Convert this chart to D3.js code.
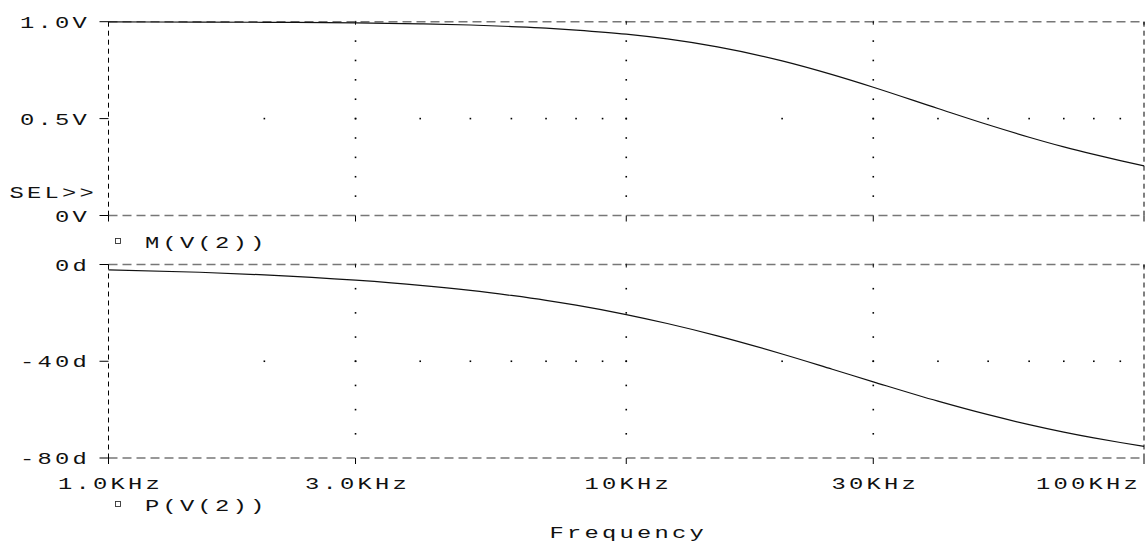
<!DOCTYPE html>
<html>
<head>
<meta charset="utf-8">
<script src="https://cdn.jsdelivr.net/npm/d3@7"></script>
<style>
  body { margin: 0; background: #fff; }
  text { font-family: "Liberation Mono", "DejaVu Sans Mono", monospace; font-size: 17px; fill: #111; }
</style>
</head>
<body>
<div id="chart"></div>
<script>
// frequency sweep (Hz) and the two traces
var freqs = [1000, 1500, 2000, 3000, 4000, 5000, 6000, 7000, 8000, 10000, 12000, 15000,
  20000, 25000, 30000, 40000, 50000, 60000, 70000, 80000, 90000, 100000];
var magnitude = [0.999, 0.998, 0.997, 0.994, 0.989, 0.983, 0.975, 0.967, 0.957, 0.936, 0.911, 0.870,
  0.798, 0.727, 0.662, 0.552, 0.468, 0.404, 0.354, 0.315, 0.283, 0.256];
var phase = [-2.2, -3.2, -4.3, -6.5, -8.6, -10.7, -12.8, -14.8, -16.8, -20.7, -24.4, -29.5,
  -37.0, -43.3, -48.5, -56.5, -62.1, -66.2, -69.3, -71.7, -73.6, -75.2];

var xTicks = [1000, 3000, 10000, 30000, 100000];
var xTickLabels = ["1.0KHz", "3.0KHz", "10KHz", "30KHz", "100KHz"];
var magTicks = [1.0, 0.5, 0];
var magTickLabels = ["1.0V", "0.5V", "0V"];
var phaseTicks = [0, -40, -80];
var phaseTickLabels = ["0d", "-40d", "-80d"];
var minorFreqs = [2000, 3000, 4000, 5000, 6000, 7000, 8000, 9000, 10000,
  20000, 30000, 40000, 50000, 60000, 70000, 80000, 90000];
var gridFreqs = [3000, 10000, 30000];
var magGrid = [0.1, 0.2, 0.3, 0.4, 0.5, 0.6, 0.7, 0.8, 0.9];
var phaseGrid = [-70, -60, -50, -40, -30, -20, -10];

var width = 1147, height = 544;
var left = 108.5, right = 1144;

var svg = d3.select("#chart").append("svg")
  .attr("width", width)
  .attr("height", height);
svg.append("rect").attr("width", width).attr("height", height).attr("fill", "#fff");

var x = d3.scaleLog().domain([1000, 100000]).range([left, right]);
var yMag = d3.scaleLinear().domain([0, 1]).range([215.5, 21.7]);
var yPh = d3.scaleLinear().domain([-80, 0]).range([458, 264.5]);

// stretched monospace label, like the old plotter font
function label(txt, px, py, anchor) {
  var t = svg.append("text")
    .attr("text-anchor", anchor || "start")
    .attr("letter-spacing", "2.3px")
    .attr("transform", "translate(" + px + "," + py + ") scale(1.4,1)")
    .text(txt);
  return t;
}

function hline(y, color, w, dash) {
  svg.append("line")
    .attr("x1", left).attr("x2", right)
    .attr("y1", y).attr("y2", y)
    .attr("stroke", color).attr("stroke-width", w)
    .attr("stroke-dasharray", dash);
}
function vline(xp, y1, y2) {
  svg.append("line")
    .attr("x1", xp).attr("x2", xp)
    .attr("y1", y1).attr("y2", y2)
    .attr("stroke", "#000").attr("stroke-width", 1)
    .attr("stroke-dasharray", "5,4");
}

function panel(y, ticks, tickLabels, gridVals, midVal) {
  var top = y.range()[1], bot = y.range()[0];

  // dotted grid
  var dots = [];
  gridFreqs.forEach(function (f) {
    gridVals.forEach(function (v) { dots.push([x(f), y(v)]); });
    dots.push([x(f), top]);
  });
  minorFreqs.forEach(function (f) { dots.push([x(f), y(midVal)]); });
  svg.append("g").selectAll("rect")
    .data(dots)
    .join("rect")
    .attr("x", d => d[0] - 0.8)
    .attr("y", d => d[1] - 0.8)
    .attr("width", 1.6)
    .attr("height", 1.6)
    .attr("fill", "#000");

  // frame
  hline(top, "#777", 1.6, "9,5");
  hline(bot, "#777", 1.6, "9,5");
  vline(left, top, bot);
  vline(right, top, bot);

  // y ticks and labels
  ticks.forEach(function (v, i) {
    svg.append("line")
      .attr("x1", left - 9).attr("x2", left)
      .attr("y1", y(v)).attr("y2", y(v))
      .attr("stroke", "#000");
    label(tickLabels[i], 90, y(v) + 6, "end");
  });

  // small x ticks on the frame
  xTicks.forEach(function (f) {
    svg.append("line")
      .attr("x1", x(f)).attr("x2", x(f))
      .attr("y1", bot).attr("y2", bot + 6)
      .attr("stroke", "#000");
    svg.append("line")
      .attr("x1", x(f)).attr("x2", x(f))
      .attr("y1", top).attr("y2", top + 3)
      .attr("stroke", "#000");
  });
}

panel(yMag, magTicks, magTickLabels, magGrid, 0.5);
panel(yPh, phaseTicks, phaseTickLabels, phaseGrid, -40);

// traces
var magLine = d3.line()
  .x((d, i) => x(freqs[i]))
  .y(d => yMag(d))
  .curve(d3.curveMonotoneX);
var phLine = d3.line()
  .x((d, i) => x(freqs[i]))
  .y(d => yPh(d))
  .curve(d3.curveMonotoneX);

svg.append("path")
  .attr("d", magLine(magnitude))
  .attr("fill", "none")
  .attr("stroke", "#111")
  .attr("stroke-width", 1.2);
svg.append("path")
  .attr("d", phLine(phase))
  .attr("fill", "none")
  .attr("stroke", "#111")
  .attr("stroke-width", 1.2);

// x tick labels
xTicks.forEach(function (f, i) {
  if (i === xTicks.length - 1) {
    label(xTickLabels[i], 1141, 489, "end");
  } else {
    label(xTickLabels[i], x(f) + 2, 489, "middle");
  }
});

// legends and captions
label("SEL>>", 97, 198, "end");

function legend(txt, y) {
  svg.append("rect")
    .attr("x", 115.5).attr("y", y - 3.5)
    .attr("width", 5).attr("height", 5)
    .attr("fill", "none")
    .attr("stroke", "#333")
    .attr("stroke-width", 0.9);
  label(txt, 145, y + 6, "start");
}
legend("M(V(2))", 242);
legend("P(V(2))", 505);

label("Frequency", (left + right) / 2 + 2, 538, "middle");
</script>
</body>
</html>
